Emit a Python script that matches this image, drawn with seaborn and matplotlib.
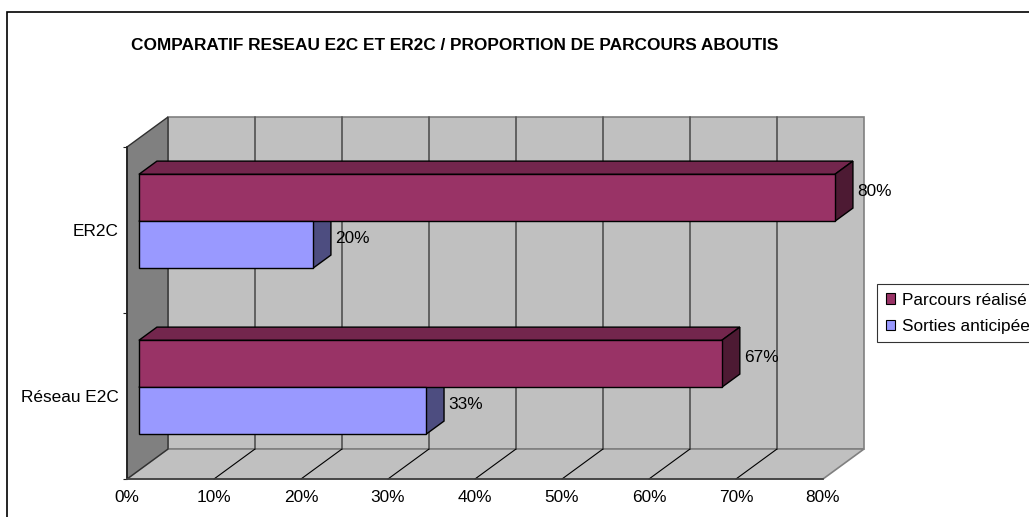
import numpy as np
import pandas as pd
import matplotlib
matplotlib.use("Agg")
import matplotlib.pyplot as plt
from matplotlib.patches import Polygon, Patch, Rectangle
import seaborn as sns

sns.set_theme(style="white")
plt.rcParams["font.family"] = ["Liberation Sans", "DejaVu Sans"]
plt.rcParams.update({"text.color": "black", "xtick.color": "black", "ytick.color": "black"})

# -----------------------------
# Data
# -----------------------------
categories = ["ER2C", "Réseau E2C"]
series = ["Parcours réalisé", "Sorties anticipées"]
parcours_realise = [0.80, 0.67]
sorties_anticipees = [0.20, 0.33]
x_ticks = [0.0, 0.1, 0.2, 0.3, 0.4, 0.5, 0.6, 0.7, 0.8]

colors = ["#993366", "#9999FF"]
title = "COMPARATIF RESEAU E2C ET ER2C / PROPORTION DE PARCOURS ABOUTIS"

df = pd.DataFrame({
    "Category": categories * 2,
    "Series": [series[0]] * 2 + [series[1]] * 2,
    "Value": parcours_realise + sorties_anticipees,
})

# -----------------------------
# Layout (front plane of the 3D box = axes)
# -----------------------------
W, H = 1029, 517
fig = plt.figure(figsize=(W / 100, H / 100), dpi=100)
ax = fig.add_axes([127 / W, (H - 479) / H, 696 / W, 332 / H])
ax.patch.set_visible(False)

FS = 12.4
# depth offsets in data units (full depth of the box)
DX = 41 / 870
DY = -30 / 166
F0, DD = 0.29, 0.44  # bar front depth, bar thickness (fraction of depth)

sns.barplot(
    data=df, x="Value", y="Category", hue="Series",
    order=categories, hue_order=series, palette=colors, saturation=1,
    width=0.566, orient="h", errorbar=None,
    edgecolor="black", linewidth=1, legend=False, ax=ax,
)
bars = list(ax.patches)

ax.set_xlim(0, 0.8)
ax.set_ylim(1.5, -0.5)

# -----------------------------
# Walls + floor
# -----------------------------
y0, y1 = -0.5, 1.5
back = Polygon([(DX, y0 + DY), (0.8 + DX, y0 + DY), (0.8 + DX, y1 + DY), (DX, y1 + DY)],
               closed=True, facecolor="#C0C0C0", edgecolor="#808080", lw=1.2, zorder=0.5, clip_on=False)
floor = Polygon([(0, y1), (0.8, y1), (0.8 + DX, y1 + DY), (DX, y1 + DY)],
                closed=True, facecolor="#C0C0C0", edgecolor="#808080", lw=1.2, zorder=0.6, clip_on=False)
side = Polygon([(0, y0), (DX, y0 + DY), (DX, y1 + DY), (0, y1)],
               closed=True, facecolor="#808080", edgecolor="#303030", lw=1.0, zorder=0.7, clip_on=False)
for p in (back, floor, side):
    ax.add_patch(p)

for t in x_ticks[1:-1]:
    ax.plot([t + DX, t + DX], [y0 + DY, y1 + DY], color="#595959", lw=1.3, zorder=0.8, clip_on=False)
    ax.plot([t, t + DX], [y1, y1 + DY], color="black", lw=0.8, zorder=0.8, clip_on=False)

# -----------------------------
# 3D bar faces
# -----------------------------
for p in bars:
    p.set_x(p.get_x() + F0 * DX)
    p.set_y(p.get_y() + F0 * DY)
    p.set_zorder(3)
    p.set_clip_on(False)
    rgb = np.array(matplotlib.colors.to_rgb(p.get_facecolor()))
    bx0, by0 = p.get_x(), p.get_y()
    bx1, by1 = bx0 + p.get_width(), by0 + p.get_height()
    top = Polygon([(bx0, by0), (bx1, by0), (bx1 + DD * DX, by0 + DD * DY), (bx0 + DD * DX, by0 + DD * DY)],
                  closed=True, facecolor=rgb * 0.75, edgecolor="black", lw=1, zorder=2, clip_on=False)
    sd = Polygon([(bx1, by0), (bx1 + DD * DX, by0 + DD * DY), (bx1 + DD * DX, by1 + DD * DY), (bx1, by1)],
                 closed=True, facecolor=rgb * 0.5, edgecolor="black", lw=1, zorder=2, clip_on=False)
    ax.add_patch(top)
    ax.add_patch(sd)
    ax.annotate(f"{p.get_width():.0%}", (bx1 + DD * DX, (by0 + by1) / 2 + DD * DY / 2),
                xytext=(3, 0), textcoords="offset points", ha="left", va="center",
                fontsize=FS, color="black", zorder=4, annotation_clip=False)

# -----------------------------
# Axes styling
# -----------------------------
for s in ("top", "right"):
    ax.spines[s].set_visible(False)
ax.spines["left"].set_color("#202020")
ax.spines["bottom"].set_color("#404040")
ax.spines["left"].set_zorder(1)
ax.spines["bottom"].set_zorder(1)

ax.set_xticks(x_ticks, labels=[f"{t:.0%}" for t in x_ticks])
ax.tick_params(axis="x", direction="out", length=3, width=0.8, color="#202020", pad=5, labelsize=FS)
ax.set_yticks([0, 1], labels=categories)
ax.set_yticks([-0.5, 0.5, 1.5], minor=True)
ax.tick_params(axis="y", which="major", length=0, pad=6, labelsize=FS)
ax.tick_params(axis="y", which="minor", direction="out", length=3, width=0.8, color="#202020", left=True)
ax.set_xlabel("")
ax.set_ylabel("")

# -----------------------------
# Legend, title, border
# -----------------------------
handles = [Patch(facecolor=c, edgecolor="black", lw=0.8) for c in colors]
leg = fig.legend(handles, series, loc="upper left", bbox_to_anchor=(877 / W, 1 - 284 / H),
                 fontsize=FS, frameon=True, fancybox=False, edgecolor="black",
                 borderpad=0.5, labelspacing=0.65, handlelength=0.55, handleheight=0.55,
                 handletextpad=0.4, borderaxespad=0)
leg.get_frame().set_linewidth(0.8)

fig.text(455 / W, 1 - 45 / H, title, ha="center", va="center", fontsize=FS,
         fontweight="bold", color="black")

fig.patches.append(Rectangle((7 / W, -0.1), 1.2, 1.1 - 12 / H, transform=fig.transFigure,
                             fill=False, edgecolor="black", lw=1.2))

fig.savefig("out.png", dpi=100)
